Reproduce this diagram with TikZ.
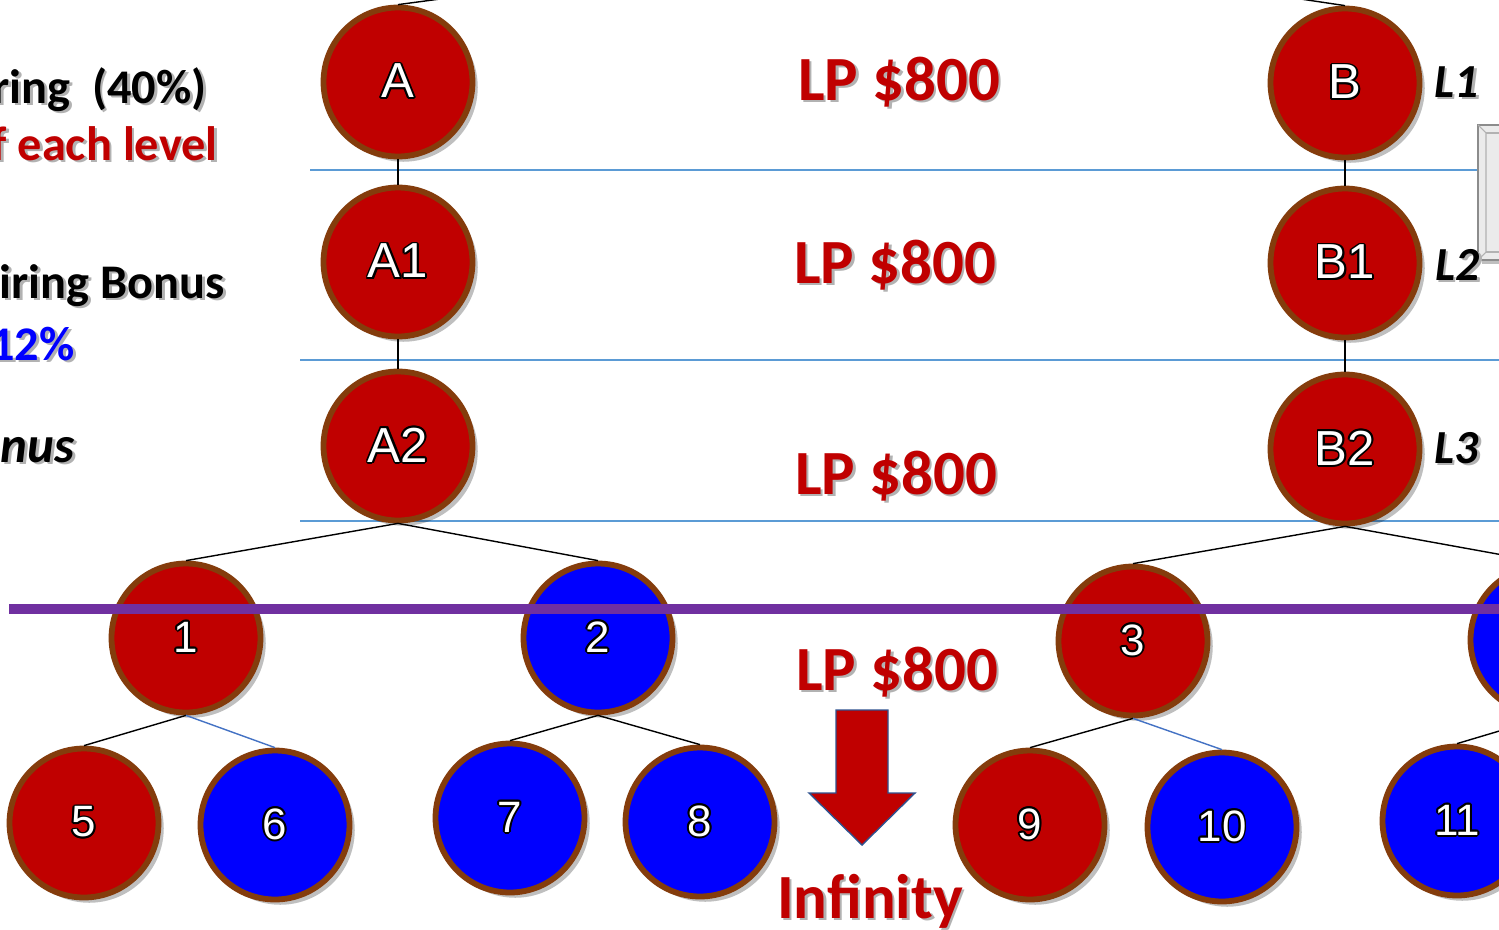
\documentclass[tikz,border=0pt]{standalone}
\usepackage{fontspec}
\setmainfont{Carlito}
\newfontfamily\arialfont{Liberation Sans}
\usepackage{contour}
\contourlength{1.1pt}
\contournumber{10}
\usetikzlibrary{shadows}
\definecolor{nodered}{HTML}{C00000}
\definecolor{nodeblue}{HTML}{0000FF}
\definecolor{rimbrown}{HTML}{843C0C}
\definecolor{guideblue}{HTML}{5B9BD5}
\definecolor{edgeblue}{HTML}{4472C4}
\definecolor{barpurple}{HTML}{7030A0}
\definecolor{arrowrim}{HTML}{2F528F}
\newcommand\shtxt[1]{\makebox[0pt][l]{\hspace{1.5pt}\raisebox{-1.5pt}{\textcolor{black!30}{#1}}}#1}
\tikzset{
  member/.style={circle, minimum size=2.98cm, inner sep=0pt, line width=3.3pt, draw=rimbrown,
    drop shadow={shadow xshift=3pt, shadow yshift=-3pt, opacity=0.25, fill=black},
    font=\arialfont\fontsize{28}{30}\selectfont, text=white},
  redm/.style={member, fill=nodered},
  bluem/.style={member, fill=nodeblue},
  numlab/.style={font=\arialfont\fontsize{25}{27}\selectfont},
  lp/.style={font=\bfseries\fontsize{35.8}{40}\selectfont, text=nodered, inner sep=0pt},
  sidetxt/.style={font=\bfseries\fontsize{27.5}{30}\selectfont, inner sep=0pt, anchor=base east},
  lvl/.style={font=\bfseries\itshape\fontsize{27}{30}\selectfont, inner sep=0pt, anchor=base west},
  guide/.style={guideblue, line width=0.7pt},
  tree/.style={black, line width=0.8pt},
  treeb/.style={edgeblue, line width=0.8pt},
}
\begin{document}
\begin{tikzpicture}[x=0.02cm,y=-0.02cm]
\useasboundingbox (0,0) rectangle (1499,930);
\clip (0,0) rectangle (1499,930);
\fill[white] (0,0) rectangle (1499,930);

% guide lines
\draw[guide] (310,170) -- (1478,170);
\draw[guide] (300,360) -- (1499,360);
\draw[guide] (300,521) -- (1499,521);

% gray box at right
\fill[black!25] (1482,129) rectangle (1510,264);
\fill[black!8] (1478,125) rectangle (1505,260);
\draw[black!45, line width=0.6pt] (1478,125) rectangle (1510,260);
\draw[black!30, line width=0.6pt] (1478,125) -- (1486,133) -- (1486,252) -- (1478,260);
\draw[black!30, line width=0.6pt] (1486,133) -- (1510,133);
\draw[black!30, line width=0.6pt] (1486,252) -- (1510,252);

% off-page parent ends
\coordinate (pA) at (560,-17);
\coordinate (pB) at (1220,-13);

% nodes
\node[redm] (A)  at (398,82)  {\contour{black}{A}};
\node[redm] (A1) at (398,262) {\contour{black}{A1}};
\node[redm] (A2) at (398,446) {\contour{black}{A2}};
\node[redm] (B)  at (1345,83) {\contour{black}{B}};
\node[redm] (B1) at (1345,263) {\contour{black}{B1}};
\node[redm] (B2) at (1345,449) {\contour{black}{B2}};

\node[redm, numlab]  (n1) at (186,638) {\contour{black}{1}};
\node[bluem, numlab] (n2) at (598,638) {\contour{black}{2}};
\node[redm, numlab]  (n3) at (1133,641) {\contour{black}{3}};
\node[bluem, numlab] (n4) at (1545,640) {};

\node[redm, numlab]  (n5)  at (84,823)   {\contour{black}{5}};
\node[bluem, numlab] (n6)  at (275,825)  {\contour{black}{6}};
\node[bluem, numlab] (n7)  at (510,818)  {\contour{black}{7}};
\node[bluem, numlab] (n8)  at (700,822)  {\contour{black}{8}};
\node[redm, numlab]  (n9)  at (1030,825) {\contour{black}{9}};
\node[bluem, numlab] (n10) at (1222,827) {\contour{black}{10}};
\node[bluem, numlab] (n11) at (1457,821) {\contour{black}{11}};

% connectors
\draw[tree] (A.north) -- (pA);
\draw[tree] (B.north) -- (pB);
\draw[tree] (A.south) -- (A1.north);
\draw[tree] (A1.south) -- (A2.north);
\draw[tree] (B.south) -- (B1.north);
\draw[tree] (B1.south) -- (B2.north);
\draw[tree] (A2.south) -- (n1.north);
\draw[tree] (A2.south) -- (n2.north);
\draw[tree] (B2.south) -- (n3.north);
\draw[tree] (B2.south) -- (n4.north);
\draw[tree] (n1.south) -- (n5.north);
\draw[treeb] (n1.south) -- (n6.north);
\draw[tree] (n2.south) -- (n7.north);
\draw[tree] (n2.south) -- (n8.north);
\draw[tree] (n3.south) -- (n9.north);
\draw[treeb] (n3.south) -- (n10.north);
\draw[tree] (n4.south) -- (n11.north);

% purple bar
\fill[barpurple] (9,604) rectangle (1499,614);

% LP texts
\node[lp, anchor=base] (lp1) at (899,100) {\shtxt{LP \$800}};
\node[lp, anchor=base] (lp2) at (895,283) {\shtxt{LP \$800}};
\node[lp, anchor=base] (lp3) at (896,494) {\shtxt{LP \$800}};
\node[lp, anchor=base] (lp4) at (897,690) {\shtxt{LP \$800}};

% down arrow
\draw[fill=nodered, draw=arrowrim, line width=0.8pt, line join=miter]
  (836,710) -- (888,710) -- (888,793) -- (915,793) -- (862,845) -- (809,793) -- (836,793) -- cycle;
\node[lp, anchor=base] (inf) at (870,918) {\shtxt{Infinity}};

% level labels
\node[lvl] (L1) at (1434,97)  {\shtxt{L1}};
\node[lvl] (L2) at (1435,280) {\shtxt{L2}};
\node[lvl] (L3) at (1434,463) {\shtxt{L3}};

% left side texts
\node[sidetxt, text=black] (t1) at (207,103) {\shtxt{ring~~(40\%)}};
\node[sidetxt, text=nodered] (t2) at (218,160) {\shtxt{f each level}};
\node[sidetxt, text=black] (t3) at (225,298) {\shtxt{iring Bonus}};
\node[sidetxt, text=nodeblue] (t4) at (75,360) {\shtxt{12\%}};
\node[sidetxt, text=black, font=\bfseries\itshape\fontsize{29}{30}\selectfont] (t5) at (75,462) {\shtxt{nus}};
\end{tikzpicture}
\end{document}
